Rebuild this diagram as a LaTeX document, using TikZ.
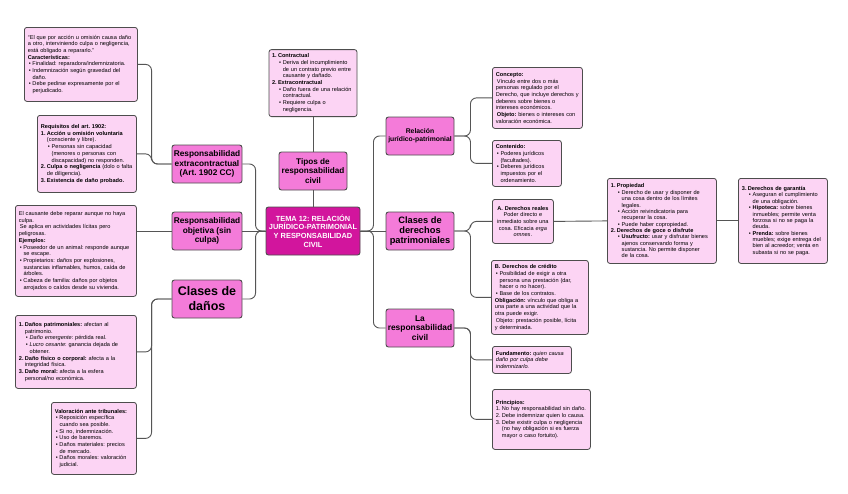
\documentclass[tikz,border=0pt]{standalone}
\usepackage{fontspec}
\setmainfont{Liberation Sans}
\frenchspacing
\definecolor{lpink}{HTML}{FCD4F4}
\definecolor{mpink}{HTML}{F47BD9}
\definecolor{dpink}{HTML}{D2159D}
\definecolor{bord}{HTML}{4D4D4D}
\definecolor{lineg}{HTML}{555555}
\newcommand{\xbu}{\hspace*{1pt}\makebox[3.6pt][l]{•}}
\newcommand{\xcn}{\hspace*{4.6pt}}
\newcommand{\xnm}[1]{\makebox[6pt][l]{#1}}
\newcommand{\xcc}{\hspace*{6pt}}
\newcommand{\xsb}{\hspace*{7pt}\makebox[3.8pt][l]{•}}
\newcommand{\xsc}{\hspace*{10.8pt}}
\newcommand{\dfont}{\fontsize{5.6}{6.7}\selectfont}
\newcommand{\dfonttight}{\fontsize{5.6}{6.35}\selectfont}
\tikzset{
  detail/.style={draw=bord, fill=lpink, rounded corners=2.5pt, line width=0.8pt,
    align=left, inner xsep=3.5pt, inner ysep=3pt, anchor=north west, font=\dfont},
  midnode/.style={draw=bord, fill=mpink, rounded corners=2.5pt, line width=0.9pt,
    align=center, minimum width=70pt, minimum height=38pt, inner sep=1pt,
    font=\bfseries\fontsize{8.3}{9.3}\selectfont},
  mainnode/.style={draw=bord, fill=dpink, text=white, rounded corners=2.5pt, line width=0.9pt,
    align=center, minimum width=94pt, minimum height=48pt, inner sep=1pt,
    font=\bfseries\fontsize{7.4}{8.7}\selectfont},
  conn/.style={draw=lineg, line width=0.9pt, rounded corners=6pt}
}
\begin{document}
\begin{tikzpicture}[x=1pt,y=-1pt]
\fill[white] (0,0) rectangle (848,493);
\useasboundingbox (0,0) rectangle (848,493);

% ---------- central and mid nodes ----------
\node[mainnode] (central) at (313,231) {TEMA 12: RELACIÓN\\JURÍDICO-PATRIMONIAL\\Y RESPONSABILIDAD\\CIVIL};
\node[midnode, minimum width=68pt, font=\bfseries\fontsize{8.2}{9.3}\selectfont] (tipos) at (313,171) {Tipos de\\responsabilidad\\civil};
\node[midnode] (extra) at (207,164) {Responsabilidad\\extracontractual\\(Art. 1902 CC)};
\node[midnode] (objetiva) at (207,231) {Responsabilidad\\objetiva (sin\\culpa)};
\node[midnode, font=\bfseries\fontsize{12.5}{15}\selectfont] (danosmid) at (207,299) {Clases de\\daños};
\node[midnode, minimum width=68pt, font=\bfseries\fontsize{6.8}{8.2}\selectfont] (relacion) at (420,136) {Relación\\jurídico-patrimonial};
\node[midnode, minimum width=68pt, font=\bfseries\fontsize{9.3}{10.4}\selectfont] (clasesder) at (420,231) {Clases de\\derechos\\patrimoniales};
\node[midnode, minimum width=68pt, font=\bfseries\fontsize{8.4}{9.6}\selectfont] (respciv) at (420,328) {La\\responsabilidad\\civil};

% ---------- detail boxes ----------
\node[detail, text width=106pt, minimum height=74pt] (topbox) at (24,27) {%
“El que por acción u omisión causa daño\\
a otro, interviniendo culpa o negligencia,\\
está obligado a repararlo.”\\
\textbf{Características:}\\
\xbu Finalidad: reparadora/indemnizatoria.\\
\xbu Indemnización según gravedad del\\
\xcn daño.\\
\xbu Debe pedirse expresamente por el\\
\xcn perjudicado.};

\node[detail, text width=92pt, minimum height=77pt] (req) at (37,115) {%
\textbf{Requisitos del art. 1902:}\\
\textbf{\xnm{1.}Acción u omisión voluntaria}\\
\xcc(consciente y libre).\\
\xsb Personas sin capacidad\\
\xsc(menores o personas con\\
\xsc discapacidad) no responden.\\
\textbf{\xnm{2.}Culpa o negligencia} (dolo o falta\\
\xcc de diligencia).\\
\textbf{\xnm{3.}Existencia de daño probado.}};

\node[detail, text width=114pt, minimum height=91pt] (objbox) at (15,205) {%
El causante debe reparar aunque no haya\\
culpa.\\
\hspace*{1pt}Se aplica en actividades lícitas pero\\
peligrosas.\\
\textbf{Ejemplos:}\\
\xbu Poseedor de un animal: responde aunque\\
\xcn se escape.\\
\xbu Propietarios: daños por explosiones,\\
\xcn sustancias inflamables, humos, caída de\\
\xcn árboles.\\
\xbu Cabeza de familia: daños por objetos\\
\xcn arrojados o caídos desde su vivienda.};

\node[detail, text width=114pt, minimum height=73pt] (danosbox) at (15,315) {%
\textbf{\xnm{1.}Daños patrimoniales:} afectan al\\
\xcc patrimonio.\\
\xsb\textit{Daño emergente}: pérdida real.\\
\xsb\textit{Lucro cesante}: ganancia dejada de\\
\xsc obtener.\\
\textbf{\xnm{2.}Daño físico o corporal:} afecta a la\\
\xcc integridad física.\\
\textbf{\xnm{3.}Daño moral:} afecta a la esfera\\
\xcc personal/no económica.};

\node[detail, text width=78pt, minimum height=72pt] (valor) at (51,402) {%
\textbf{Valoración ante tribunales:}\\
\xbu Reposición específica\\
\xcn cuando sea posible.\\
\xbu Si no, indemnización.\\
\xbu Uso de baremos.\\
\xbu Daños materiales: precios\\
\xcn de mercado.\\
\xbu Daños morales: valoración\\
\xcn judicial.};

\node[detail, anchor=south, inner xsep=3pt, text width=82pt, minimum height=67pt] (tiposdet) at (313,117) {%
\textbf{\xnm{1.}Contractual}\\
\xsb Deriva del incumplimiento\\
\xsc de un contrato previo entre\\
\xsc causante y dañado.\\
\textbf{\xnm{2.}Extracontractual}\\
\xsb Daño fuera de una relación\\
\xsc contractual.\\
\xsb Requiere culpa o\\
\xsc negligencia.};

\node[detail, text width=83pt, minimum height=61pt] (concepto) at (492,67) {%
\textbf{Concepto:}\\
\hspace*{1pt}Vínculo entre dos o más\\
personas regulado por el\\
Derecho, que incluye derechos y\\
deberes sobre bienes o\\
intereses económicos.\\
\hspace*{1pt}\textbf{Objeto:} bienes o intereses con\\
valoración económica.};

\node[detail, text width=62pt, minimum height=46pt] (contenido) at (492,140) {%
\textbf{Contenido:}\\
\xbu Poderes jurídicos\\
\xcn (facultades).\\
\xbu Deberes jurídicos\\
\xcn impuestos por el\\
\xcn ordenamiento.};

\node[detail, align=center, text width=54pt, minimum height=44pt] (areal) at (492,199) {%
\textbf{A. Derechos reales}\\
Poder directo e\\
inmediato sobre una\\
cosa. Eficacia \textit{erga}\\
\textit{omnes}.};

\node[detail, text width=90pt, minimum height=74pt] (bcred) at (491,260) {%
\textbf{B. Derechos de crédito}\\
\xbu Posibilidad de exigir a otra\\
\xcn persona una prestación (dar,\\
\xcn hacer o no hacer).\\
\xbu Base de los contratos.\\
\textbf{Obligación:} vínculo que obliga a\\
una parte a una actividad que la\\
otra puede exigir.\\
\hspace*{1pt}Objeto: prestación posible, lícita\\
y determinada.};

\node[detail, text width=72pt, minimum height=27pt] (fund) at (492,346) {%
\textbf{Fundamento:} \textit{quien causa}\\
\textit{daño por culpa debe}\\
\textit{indemnizarlo.}};

\node[detail, text width=91pt, minimum height=60pt] (princ) at (492,389) {%
\textbf{Principios:}\\
\xnm{1.}No hay responsabilidad sin daño.\\
\xnm{2.}Debe indemnizar quien lo causa.\\
\xnm{3.}Debe existir culpa o negligencia\\
\xcc(no hay obligación si es fuerza\\
\xcc mayor o caso fortuito).};

\node[detail, font=\dfonttight, text width=102pt, minimum height=85pt] (prop) at (607,178) {%
\textbf{\xnm{1.}Propiedad}\\
\xsb Derecho de usar y disponer de\\
\xsc una cosa dentro de los límites\\
\xsc legales.\\
\xsb Acción reivindicatoria para\\
\xsc recuperar la cosa.\\
\xsb Puede haber copropiedad.\\
\textbf{\xnm{2.}Derechos de goce o disfrute}\\
\xsb\textbf{Usufructo:} usar y disfrutar bienes\\
\xsc ajenos conservando forma y\\
\xsc sustancia. No permite disponer\\
\xsc de la cosa.};

\node[detail, font=\dfonttight, text width=82pt, minimum height=85pt] (gar) at (738,178) {%
\textbf{\xnm{3.}Derechos de garantía}\\
\xsb Aseguran el cumplimiento\\
\xsc de una obligación.\\
\xsb\textbf{Hipoteca:} sobre bienes\\
\xsc inmuebles; permite venta\\
\xsc forzosa si no se paga la\\
\xsc deuda.\\
\xsb\textbf{Prenda:} sobre bienes\\
\xsc muebles; exige entrega del\\
\xsc bien al acreedor; venta en\\
\xsc subasta si no se paga.};

% ---------- connectors ----------
\draw[conn] (central.north) -- (tipos.south);
\draw[conn] (tipos.north) -- (tiposdet.south);
\draw[conn] (central.west) -- ++(-10,0) |- (extra.east);
\draw[conn] (central.west) -- (objetiva.east);
\draw[conn] (central.west) -- ++(-10,0) |- (danosmid.east);
\draw[conn] (extra.west) -- ++(-20,0) |- (topbox.east);
\draw[conn] (extra.west) -- ++(-20,0) |- (req.east);
\draw[conn] (objetiva.west) -- (objetiva.west -| objbox.east);
\draw[conn] (danosmid.west) -- ++(-20,0) |- (danosbox.east);
\draw[conn] (danosmid.west) -- ++(-20,0) |- (valor.east);
\draw[conn] (central.east) -- ++(13,0) |- (relacion.west);
\draw[conn] (central.east) -- (clasesder.west);
\draw[conn] (central.east) -- ++(13,0) |- (respciv.west);
\draw[conn] (relacion.east) -- ++(16,0) |- (concepto.west);
\draw[conn] (relacion.east) -- ++(16,0) |- (contenido.west);
\draw[conn] (clasesder.east) -- ++(16,0) |- (areal.west);
\draw[conn] (clasesder.east) -- ++(16,0) |- (bcred.west);
\draw[conn] (respciv.east) -- ++(16,0) |- (fund.west);
\draw[conn] (respciv.east) -- ++(16,0) |- (princ.west);
\draw[conn] (areal.east) -- (prop.west);
\draw[conn] (prop.east) -- (gar.west);
\end{tikzpicture}
\end{document}
